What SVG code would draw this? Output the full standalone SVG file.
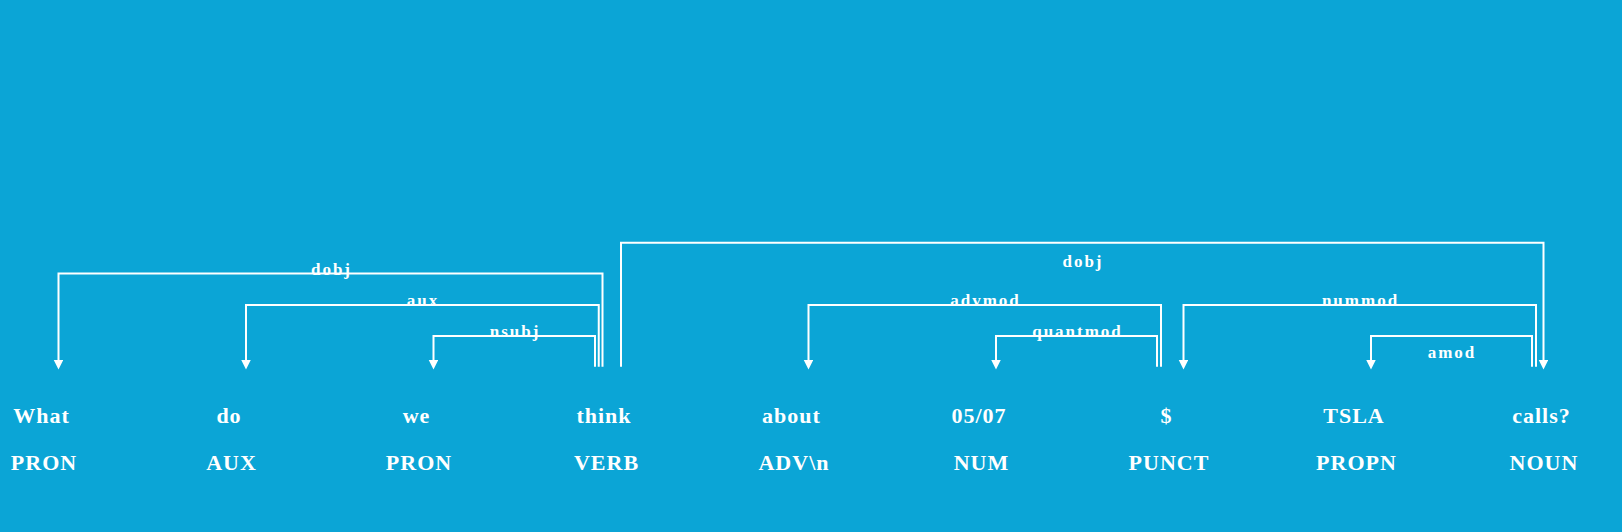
<svg xmlns="http://www.w3.org/2000/svg" width="1622" height="532" viewBox="0 0 1622 532">
<style>
.bg{fill:#0ba5d6}
.word{font-family:"Liberation Serif","Times New Roman",serif;font-weight:bold;font-size:22px;letter-spacing:1px;fill:#ffffff;text-anchor:middle}
.arc{fill:none;stroke:#ffffff;stroke-width:2}
.lbl{font-family:"Liberation Serif","Times New Roman",serif;font-weight:bold;font-size:17px;letter-spacing:2px;fill:#ffffff;text-anchor:middle}
</style>
<defs>
<marker id="ah" markerUnits="userSpaceOnUse" markerWidth="10" markerHeight="10" viewBox="0 0 10 10" refX="0" refY="4.75" orient="auto">
<path d="M0,0 L9.5,4.75 L0,9.5 z" fill="#ffffff"/>
</marker>
</defs>
<rect class="bg" x="0" y="0" width="1622" height="532"/>
<g id="nodes">
<g id="w0"><text class="word" x="41.5" y="423.3">What</text><text class="word" x="44" y="470">PRON</text></g>
<g id="w1"><text class="word" x="229" y="423.3">do</text><text class="word" x="231.5" y="470">AUX</text></g>
<g id="w2"><text class="word" x="416.5" y="423.3">we</text><text class="word" x="419" y="470">PRON</text></g>
<g id="w3"><text class="word" x="604" y="423.3">think</text><text class="word" x="606.5" y="470">VERB</text></g>
<g id="w4"><text class="word" x="791.5" y="423.3">about</text><text class="word" x="794" y="470">ADV\n</text></g>
<g id="w5"><text class="word" x="979" y="423.3">05/07</text><text class="word" x="981.5" y="470">NUM</text></g>
<g id="w6"><text class="word" x="1166.5" y="423.3">$</text><text class="word" x="1169" y="470">PUNCT</text></g>
<g id="w7"><text class="word" x="1354" y="423.3">TSLA</text><text class="word" x="1356.5" y="470">PROPN</text></g>
<g id="w8"><text class="word" x="1541.5" y="423.3">calls?</text><text class="word" x="1544" y="470">NOUN</text></g>
</g>
<g id="connectors">
<g id="arc-dobj-1"><path class="arc" d="M602.5,366.7 V273.5 H58.5 V360" marker-end="url(#ah)"/><text class="lbl" x="331.5" y="274.5">dobj</text></g>
<g id="arc-aux"><path class="arc" d="M598.75,366.7 V305 H246 V360" marker-end="url(#ah)"/><text class="lbl" x="423" y="306">aux</text></g>
<g id="arc-nsubj"><path class="arc" d="M595,366.7 V336 H433.5 V360" marker-end="url(#ah)"/><text class="lbl" x="515" y="337">nsubj</text></g>
<g id="arc-dobj-2"><path class="arc" d="M621,366.7 V242.7 H1543.5 V360" marker-end="url(#ah)"/><text class="lbl" x="1083" y="266.7">dobj</text></g>
<g id="arc-advmod"><path class="arc" d="M1161,366.7 V305 H808.5 V360" marker-end="url(#ah)"/><text class="lbl" x="985.5" y="306">advmod</text></g>
<g id="arc-quantmod"><path class="arc" d="M1157,366.7 V336 H996 V360" marker-end="url(#ah)"/><text class="lbl" x="1077.5" y="337">quantmod</text></g>
<g id="arc-nummod"><path class="arc" d="M1536,366.7 V305 H1183.5 V360" marker-end="url(#ah)"/><text class="lbl" x="1360.5" y="306">nummod</text></g>
<g id="arc-amod"><path class="arc" d="M1532,366.7 V336 H1371 V360" marker-end="url(#ah)"/><text class="lbl" x="1452" y="358">amod</text></g>
</g>
</svg>
